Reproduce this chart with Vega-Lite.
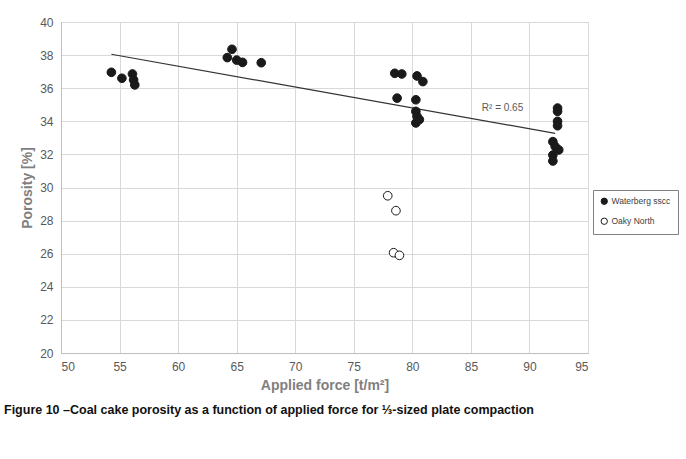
{
  "$schema": "https://vega.github.io/schema/vega-lite/v6.json",
  "width": 527,
  "height": 331,
  "autosize": "none",
  "padding": {"left": 61, "top": 22, "right": 98, "bottom": 106},
  "background": "white",
  "title": {
    "text": "Figure 10 \u2013Coal cake porosity as a function of applied force for \u2153-sized plate compaction",
    "orient": "bottom",
    "anchor": "start",
    "frame": "group",
    "dx": -57,
    "offset": 12,
    "font": "Liberation Sans Narrow, Liberation Sans, Arial",
    "fontSize": 12.5,
    "fontWeight": "bold",
    "color": "#111111"
  },
  "datasets": {
    "points": [
      {"force": 54.3, "porosity": 36.96, "series": "Waterberg sscc"},
      {"force": 55.2, "porosity": 36.6, "series": "Waterberg sscc"},
      {"force": 56.1, "porosity": 36.86, "series": "Waterberg sscc"},
      {"force": 56.2, "porosity": 36.5, "series": "Waterberg sscc"},
      {"force": 56.3, "porosity": 36.2, "series": "Waterberg sscc"},
      {"force": 64.6, "porosity": 38.35, "series": "Waterberg sscc"},
      {"force": 64.2, "porosity": 37.85, "series": "Waterberg sscc"},
      {"force": 65.0, "porosity": 37.7, "series": "Waterberg sscc"},
      {"force": 65.5, "porosity": 37.56, "series": "Waterberg sscc"},
      {"force": 67.1, "porosity": 37.54, "series": "Waterberg sscc"},
      {"force": 78.5, "porosity": 36.9, "series": "Waterberg sscc"},
      {"force": 79.1, "porosity": 36.86, "series": "Waterberg sscc"},
      {"force": 80.4, "porosity": 36.74, "series": "Waterberg sscc"},
      {"force": 80.9, "porosity": 36.4, "series": "Waterberg sscc"},
      {"force": 78.7, "porosity": 35.4, "series": "Waterberg sscc"},
      {"force": 80.3, "porosity": 35.3, "series": "Waterberg sscc"},
      {"force": 80.3, "porosity": 34.6, "series": "Waterberg sscc"},
      {"force": 80.4, "porosity": 34.3, "series": "Waterberg sscc"},
      {"force": 80.6, "porosity": 34.1, "series": "Waterberg sscc"},
      {"force": 80.3, "porosity": 33.9, "series": "Waterberg sscc"},
      {"force": 92.4, "porosity": 34.8, "series": "Waterberg sscc"},
      {"force": 92.4, "porosity": 34.6, "series": "Waterberg sscc"},
      {"force": 92.4, "porosity": 34.0, "series": "Waterberg sscc"},
      {"force": 92.4, "porosity": 33.73, "series": "Waterberg sscc"},
      {"force": 92.0, "porosity": 32.77, "series": "Waterberg sscc"},
      {"force": 92.2, "porosity": 32.47, "series": "Waterberg sscc"},
      {"force": 92.5, "porosity": 32.27, "series": "Waterberg sscc"},
      {"force": 92.0, "porosity": 31.96, "series": "Waterberg sscc"},
      {"force": 92.0, "porosity": 31.6, "series": "Waterberg sscc"},
      {"force": 77.9, "porosity": 29.5, "series": "Oaky North"},
      {"force": 78.6, "porosity": 28.6, "series": "Oaky North"},
      {"force": 78.4, "porosity": 26.06, "series": "Oaky North"},
      {"force": 78.9, "porosity": 25.9, "series": "Oaky North"}
    ],
    "trend": [
      {"force": 54.3, "porosity": 38.05},
      {"force": 92.2, "porosity": 33.27}
    ],
    "note": [
      {"force": 87.7, "porosity": 34.8, "label": "R\u00b2 = 0.65"}
    ]
  },
  "encoding": {
    "x": {
      "field": "force",
      "type": "quantitative",
      "scale": {"domain": [50, 95], "nice": false, "zero": false},
      "axis": {"values": [50, 55, 60, 65, 70, 75, 80, 85, 90, 95], "labelOverlap": false, "title": "Applied force [t/m\u00b2]"}
    },
    "y": {
      "field": "porosity",
      "type": "quantitative",
      "scale": {"domain": [20, 40], "nice": false, "zero": false},
      "axis": {"values": [20, 22, 24, 26, 28, 30, 32, 34, 36, 38, 40], "labelOverlap": false, "title": "Porosity [%]"}
    }
  },
  "layer": [
    {
      "data": {"name": "trend"},
      "mark": {"type": "line", "color": "#333333", "strokeWidth": 1.2}
    },
    {
      "data": {"name": "points"},
      "mark": {"type": "point", "filled": false, "shape": "circle", "size": 75, "stroke": "#1a1a1a", "strokeWidth": 1, "opacity": 1},
      "encoding": {
        "fill": {
          "field": "series",
          "type": "nominal",
          "scale": {"domain": ["Waterberg sscc", "Oaky North"], "range": ["#1a1a1a", "#ffffff"]},
          "legend": {
            "title": null,
            "orient": "none",
            "legendX": 532,
            "legendY": 168,
            "strokeColor": "#7f7f7f",
            "padding": 7,
            "rowPadding": 9,
            "symbolStrokeColor": "#1a1a1a",
            "symbolStrokeWidth": 1,
            "symbolSize": 40,
            "labelOffset": 3,
            "labelFont": "Liberation Sans Narrow, Liberation Sans, Arial",
            "labelFontSize": 8.5,
            "labelColor": "#404040"
          }
        }
      }
    },
    {
      "data": {"name": "note"},
      "mark": {"type": "text", "font": "Liberation Sans Narrow, Liberation Sans, Arial", "fontSize": 10, "color": "#595959"},
      "encoding": {
        "text": {"field": "label"}
      }
    }
  ],
  "config": {
    "view": {"stroke": "#a6a6a6", "strokeWidth": 1},
    "axis": {
      "grid": true,
      "gridColor": "#d9d9d9",
      "gridWidth": 1,
      "domainColor": "#bfbfbf",
      "ticks": false,
      "labelOverlap": false,
      "labelFont": "Liberation Sans Narrow, Liberation Sans, Arial",
      "labelFontSize": 12,
      "labelColor": "#595959",
      "titleFont": "Liberation Sans Narrow, Liberation Sans, Arial",
      "titleFontSize": 14,
      "titleColor": "#7f7f7f",
      "titleFontWeight": "bold"
    },
    "axisX": {"labelPadding": 8, "titlePadding": 6},
    "axisY": {"labelPadding": 8, "titlePadding": 5}
  }
}
